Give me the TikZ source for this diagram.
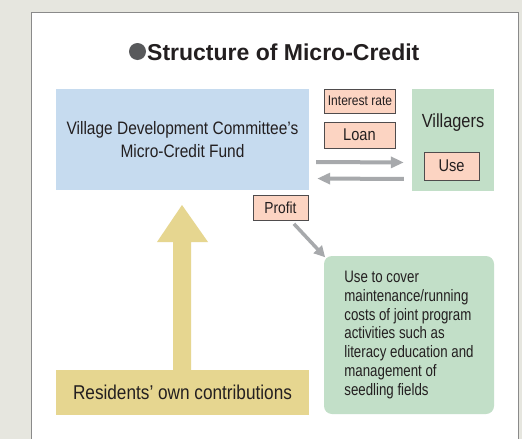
\documentclass[tikz,border=0pt]{standalone}
\usepackage{fontspec}
\setmainfont{Liberation Sans}[FakeStretch=0.86]
\newfontfamily\headfont{Liberation Sans}
\newfontfamily\notefont{Liberation Sans}[FakeStretch=0.8]
\usetikzlibrary{arrows.meta}
\definecolor{pagegray}{HTML}{E6E6DF}
\definecolor{framegray}{HTML}{8A8A8A}
\definecolor{fundblue}{HTML}{C6DBEF}
\definecolor{salmon}{HTML}{FCD4C2}
\definecolor{mintgreen}{HTML}{C2DFC8}
\definecolor{straw}{HTML}{E6D690}
\definecolor{arrowgray}{HTML}{A7A9AC}
\definecolor{bulletgray}{HTML}{58595B}
\definecolor{inkdark}{HTML}{231F20}
\tikzset{
  bigbox/.style={fill=#1,inner sep=0pt,text=inkdark},
  tagbox/.style={draw=inkdark!80,fill=salmon,inner sep=0pt,text=inkdark,font=\fontsize{14}{16}\selectfont},
  flowarrow/.style={draw=arrowgray,line width=4pt,-{Triangle[length=13pt,width=11pt]}}
}
\begin{document}
\begin{tikzpicture}[x=1pt,y=-1pt]
\useasboundingbox (0,0) rectangle (522,439);
\fill[pagegray] (0,0) rectangle (522,439);
\begin{scope}
  \clip (0,0) rectangle (522,439);
  \draw[framegray,fill=white,line width=1pt] (31,460) -- (31,12) -- (518,12) -- (518,460);
\end{scope}
% title
\fill[bulletgray] (137.5,51.5) circle (8.5);
\node[anchor=west,inner sep=0pt,text=inkdark,font=\headfont\bfseries\fontsize{23}{25}\selectfont] (title) at (147,52) {Structure of Micro-Credit};
% boxes
\node[bigbox=fundblue,minimum width=253,minimum height=101,align=center,
      font=\fontsize{18}{23}\selectfont] (fund) at (182.5,139.5)
      {Village Development Committee's\\Micro-Credit Fund};
\node[bigbox=mintgreen,minimum width=82,minimum height=102] (vill) at (453,140) {};
\node[inner sep=0pt,text=inkdark,font=\fontsize{19}{21}\selectfont] (villtxt) at (453,123) {Villagers};
\node[tagbox,minimum width=55,minimum height=28,font=\fontsize{17}{19}\selectfont] (use) at (451.5,166) {Use};
\node[tagbox,minimum width=71,minimum height=24] (rate) at (360,101) {Interest rate};
\node[tagbox,minimum width=71,minimum height=26,font=\fontsize{17}{19}\selectfont] (loan) at (359.5,135) {Loan};
\node[tagbox,minimum width=55,minimum height=25,font=\fontsize{16}{18}\selectfont] (profit) at (280.5,207.5) {Profit};
\node[bigbox=mintgreen,rounded corners=8pt,minimum width=170,minimum height=158,align=left,
      font=\notefont\fontsize{16.6}{18.8}\selectfont] (note) at (409,335)
      {Use to cover\\maintenance/running\\costs of joint program\\activities such as\\literacy education and\\management of\\seedling fields};
\node[bigbox=straw,minimum width=253,minimum height=45,font=\fontsize{20}{22}\selectfont] (resid) at (182.5,392.5)
      {Residents' own contributions};
% flows
\draw[flowarrow,shorten <=7pt,shorten >=8pt] ([yshift=-22.5pt]fund.east) -- ([yshift=-22.5pt]vill.west);
\draw[flowarrow,shorten <=8pt,shorten >=8pt] ([yshift=-39pt]vill.west) -- ([yshift=-39pt]fund.east);
\draw[draw=arrowgray,line width=3.5pt,-{Triangle[length=11pt,width=11pt]},shorten <=5pt,shorten >=-2pt] ([xshift=10pt]profit.south) -- (note.north west);
\fill[straw] (173,370) -- (173,242) -- (157,242) -- (182,205) -- (208,242) -- (191,242) -- (191,370) -- cycle;
\end{tikzpicture}
\end{document}
